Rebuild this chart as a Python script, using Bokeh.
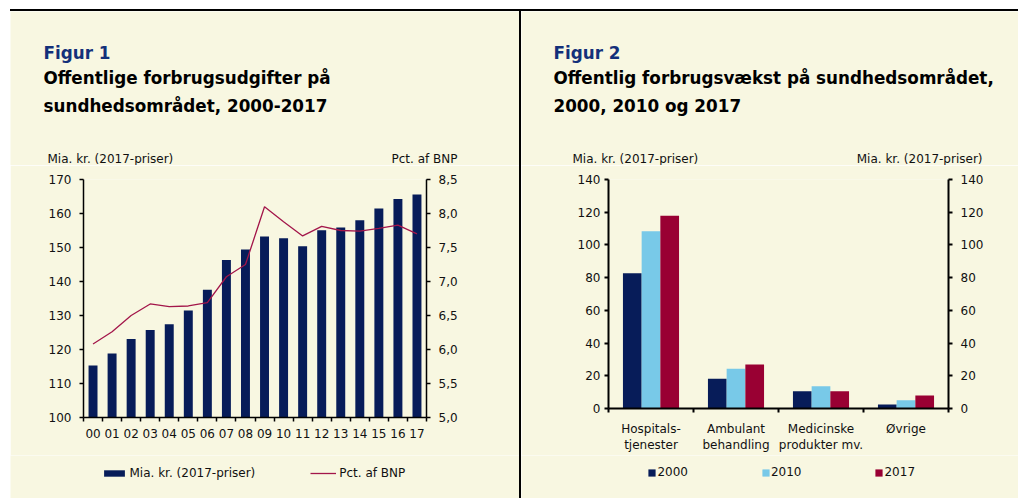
import numpy as np
from bokeh.plotting import figure
from bokeh.layouts import row, column
from bokeh.models import (Range1d, LinearAxis, FixedTicker, CustomJSTickFormatter,
                          Label, Legend, LegendItem, ColumnDataSource, Spacer)
from bokeh.transform import dodge
from bokeh.embed import file_html
from bokeh.resources import INLINE

# ---------------- data ----------------
years = ["00", "01", "02", "03", "04", "05", "06", "07", "08", "09",
         "10", "11", "12", "13", "14", "15", "16", "17"]
mia_kr = [115.3, 118.8, 123.1, 125.7, 127.4, 131.5, 137.6, 146.3, 149.4, 153.2,
          152.7, 150.4, 155.1, 155.9, 158.0, 161.5, 164.3, 165.6]
pct_bnp = [6.08, 6.26, 6.50, 6.67, 6.63, 6.64, 6.69, 7.07, 7.25, 8.10,
           7.88, 7.67, 7.81, 7.75, 7.74, 7.78, 7.83, 7.70]

categories = ["Hospitals-\ntjenester", "Ambulant\nbehandling",
              "Medicinske\nprodukter mv.", "Øvrige"]
v2000 = [82.7, 18.2, 10.5, 2.4]
v2010 = [108.4, 24.3, 13.6, 5.0]
v2017 = [117.9, 26.9, 10.5, 7.9]

BG = "#F8F7E1"
NAVY = "#071C59"
LBLUE = "#78C9E8"
CRIMSON = "#990033"
LINE = "#A3164A"
FONT = "DejaVu Sans"
TITLE_BLUE = "#13307A"
TXT = "#111111"
TSIZE = "16.8px"

# page geometry
Y_TOP = 11      # beige starts
Y_CHART = 165   # chart figure starts
Y_BOT = 455     # legend figure starts
Y_END = 498
L_X0, L_X1 = 10, 519
R_X0, R_X1 = 521, 1018


def plain_fig(x0, x1, y0, y1):
    """figure whose frame fills the whole canvas; data coords == page coords"""
    p = figure(width=x1 - x0, height=y1 - y0, output_backend="svg", toolbar_location=None,
               x_range=Range1d(x0, x1), y_range=Range1d(y1, y0),
               min_border=0, x_axis_location=None, y_axis_location=None,
               background_fill_color=BG, border_fill_color=BG, outline_line_color=None)
    p.title = None
    p.grid.visible = False
    p.frame_align = False
    return p


def chart_fig(x0, x1, y0, y1, fl, fr, ft, fb, xr, yr):
    p = figure(width=x1 - x0, height=y1 - y0, output_backend="svg", toolbar_location=None,
               x_range=xr, y_range=yr,
               min_border_left=fl - x0, min_border_right=x1 - fr,
               min_border_top=ft - y0, min_border_bottom=y1 - fb,
               background_fill_color=BG, border_fill_color=BG, outline_line_color=None)
    p.title = None
    p.grid.visible = False
    p.frame_align = False
    return p


def style_axis(ax, lw=1.5, out=4, standoff=8, minor_out=0):
    ax.axis_line_color = "black"
    ax.axis_line_width = lw
    ax.major_tick_line_color = "black"
    ax.major_tick_line_width = lw
    ax.minor_tick_line_color = "black"
    ax.minor_tick_line_width = lw
    ax.major_tick_out = out
    ax.major_tick_in = 0
    ax.minor_tick_out = minor_out
    ax.minor_tick_in = 0
    ax.major_label_standoff = standoff
    ax.major_label_text_font = FONT
    ax.major_label_text_font_size = "12px"
    ax.major_label_text_color = TXT


def add_text(p, x, y, text, size="12px", bold=False, color=TXT, align="left"):
    p.add_layout(Label(x=x, y=y, text=text, text_font=FONT, text_font_size=size,
                       text_font_style="bold" if bold else "normal",
                       text_color=color, text_align=align, text_baseline="alphabetic"))


def legend(items, x, y, gw, gh, standoff, spacing):
    return Legend(items=items, orientation="horizontal", location=(x, y),
                  glyph_width=gw, glyph_height=gh, label_height=12, label_standoff=standoff,
                  spacing=spacing, padding=0, margin=0, border_line_color=None,
                  background_fill_alpha=0, label_text_font=FONT, label_text_font_size="12px",
                  label_text_color=TXT)


def proxy_source():
    # legend-only renderers: one undefined point, so nothing is drawn in the plot
    return ColumnDataSource(dict(x=np.array([np.nan]), y=np.array([np.nan])))


# ================= Figure 1 =================
t1 = plain_fig(L_X0, L_X1, Y_TOP, Y_CHART)
add_text(t1, 43, 52, "Figur 1", TSIZE, True, TITLE_BLUE)
add_text(t1, 43, 77, "Offentlige forbrugsudgifter på", TSIZE, True, "black")
add_text(t1, 43, 105, "sundhedsområdet, 2000-2017", TSIZE, True, "black")
add_text(t1, 47, 158, "Mia. kr. (2017-priser)")
add_text(t1, 457, 158, "Pct. af BNP", align="right")

p1 = chart_fig(L_X0, L_X1, Y_CHART, Y_BOT, 83, 426, 179, 417,
               Range1d(-0.5, len(years) - 0.5), Range1d(100, 170))
p1.extra_y_ranges = {"pct": Range1d(5.0, 8.5)}
xs = list(range(len(years)))
src1 = ColumnDataSource(dict(x=xs, mia=mia_kr, pct=pct_bnp))
p1.vbar(x="x", top="mia", bottom=100, width=0.47, source=src1,
        fill_color=NAVY, line_color=None)
p1.line(x="x", y="pct", source=src1, y_range_name="pct", line_color=LINE, line_width=1.3)

ax = p1.yaxis[0]
style_axis(ax, 1.5, 4, 8)
ax.ticker = FixedTicker(ticks=list(range(100, 171, 10)))

rax = LinearAxis(y_range_name="pct")
style_axis(rax, 1.5, 4, 8)
rax.ticker = FixedTicker(ticks=[5.0 + 0.5 * i for i in range(8)])
rax.formatter = CustomJSTickFormatter(code="return tick.toFixed(1).replace('.', ',');")
p1.add_layout(rax, "right")

xa = p1.xaxis[0]
style_axis(xa, 1.5, 0, 7, minor_out=4)
xa.ticker = FixedTicker(ticks=xs, minor_ticks=[i - 0.5 for i in range(len(years) + 1)])
xa.major_label_overrides = {i: y for i, y in enumerate(years)}

b1 = plain_fig(L_X0, L_X1, Y_BOT, Y_END)
lb = b1.vbar(x="x", top="y", width=1, source=proxy_source(), fill_color=NAVY, line_color=None)
ll = b1.line(x="x", y="y", source=proxy_source(), line_color=LINE, line_width=1.3)
b1.add_layout(legend([LegendItem(label="Mia. kr. (2017-priser)", renderers=[lb]),
                      LegendItem(label="Pct. af BNP", renderers=[ll])],
                     100.5 - L_X0, Y_END - 480, 26, 8, 3, 55), "center")

left_panel = column(t1, p1, b1, spacing=0)

# ================= Figure 2 =================
t2 = plain_fig(R_X0, R_X1, Y_TOP, Y_CHART)
add_text(t2, 553, 52, "Figur 2", TSIZE, True, TITLE_BLUE)
add_text(t2, 553, 77, "Offentlig forbrugsvækst på sundhedsområdet,", TSIZE, True, "black")
add_text(t2, 553, 105, "2000, 2010 og 2017", TSIZE, True, "black")
add_text(t2, 572, 158, "Mia. kr. (2017-priser)")
add_text(t2, 982, 158, "Mia. kr. (2017-priser)", align="right")

p2 = chart_fig(R_X0, R_X1, Y_CHART, Y_BOT, 608, 948, 179, 409,
               Range1d(-0.5, len(categories) - 0.5), Range1d(0, 140))
cx = list(range(len(categories)))
src2 = ColumnDataSource(dict(x=cx, a=v2000, b=v2010, c=v2017))
p2.vbar(x=dodge("x", -0.22, range=p2.x_range), top="a", width=0.22, source=src2,
        fill_color=NAVY, line_color=None)
p2.vbar(x=dodge("x", 0.0, range=p2.x_range), top="b", width=0.22, source=src2,
        fill_color=LBLUE, line_color=None)
p2.vbar(x=dodge("x", 0.22, range=p2.x_range), top="c", width=0.22, source=src2,
        fill_color=CRIMSON, line_color=None)

ay = p2.yaxis[0]
style_axis(ay, 2, 4, 4)
ay.ticker = FixedTicker(ticks=list(range(0, 141, 20)))

ry = LinearAxis()
style_axis(ry, 2, 4, 8)
ry.ticker = FixedTicker(ticks=list(range(0, 141, 20)))
p2.add_layout(ry, "right")

bx = p2.xaxis[0]
style_axis(bx, 2, 0, 9, minor_out=4)
bx.ticker = FixedTicker(ticks=cx, minor_ticks=[i - 0.5 for i in range(len(categories) + 1)])
bx.major_label_overrides = {i: c for i, c in enumerate(categories)}

b2 = plain_fig(R_X0, R_X1, Y_BOT, Y_END)
g1 = b2.vbar(x="x", top="y", width=1, source=proxy_source(), fill_color=NAVY, line_color=None)
g2 = b2.vbar(x="x", top="y", width=1, source=proxy_source(), fill_color=LBLUE, line_color=None)
g3 = b2.vbar(x="x", top="y", width=1, source=proxy_source(), fill_color=CRIMSON, line_color=None)
b2.add_layout(legend([LegendItem(label="2000", renderers=[g1]),
                      LegendItem(label="2010", renderers=[g2]),
                      LegendItem(label="2017", renderers=[g3])],
                     647.4 - R_X0, Y_END - 479, 9, 9, 1, 73), "center")

right_panel = column(t2, p2, b2, spacing=0)

# ================= frame lines =================
sep = Spacer(width=R_X0 - L_X1, height=Y_END - Y_TOP, styles={"background-color": "black"})
top_line = Spacer(width=R_X1 - L_X0, height=2, styles={"background-color": "black"})
layout = row(Spacer(width=L_X0, height=Y_END),
             column(Spacer(width=R_X1 - L_X0, height=Y_TOP - 2), top_line,
                    row(left_panel, sep, right_panel, spacing=0), spacing=0),
             spacing=0)
open("out.html", "w").write(file_html(layout, INLINE))
